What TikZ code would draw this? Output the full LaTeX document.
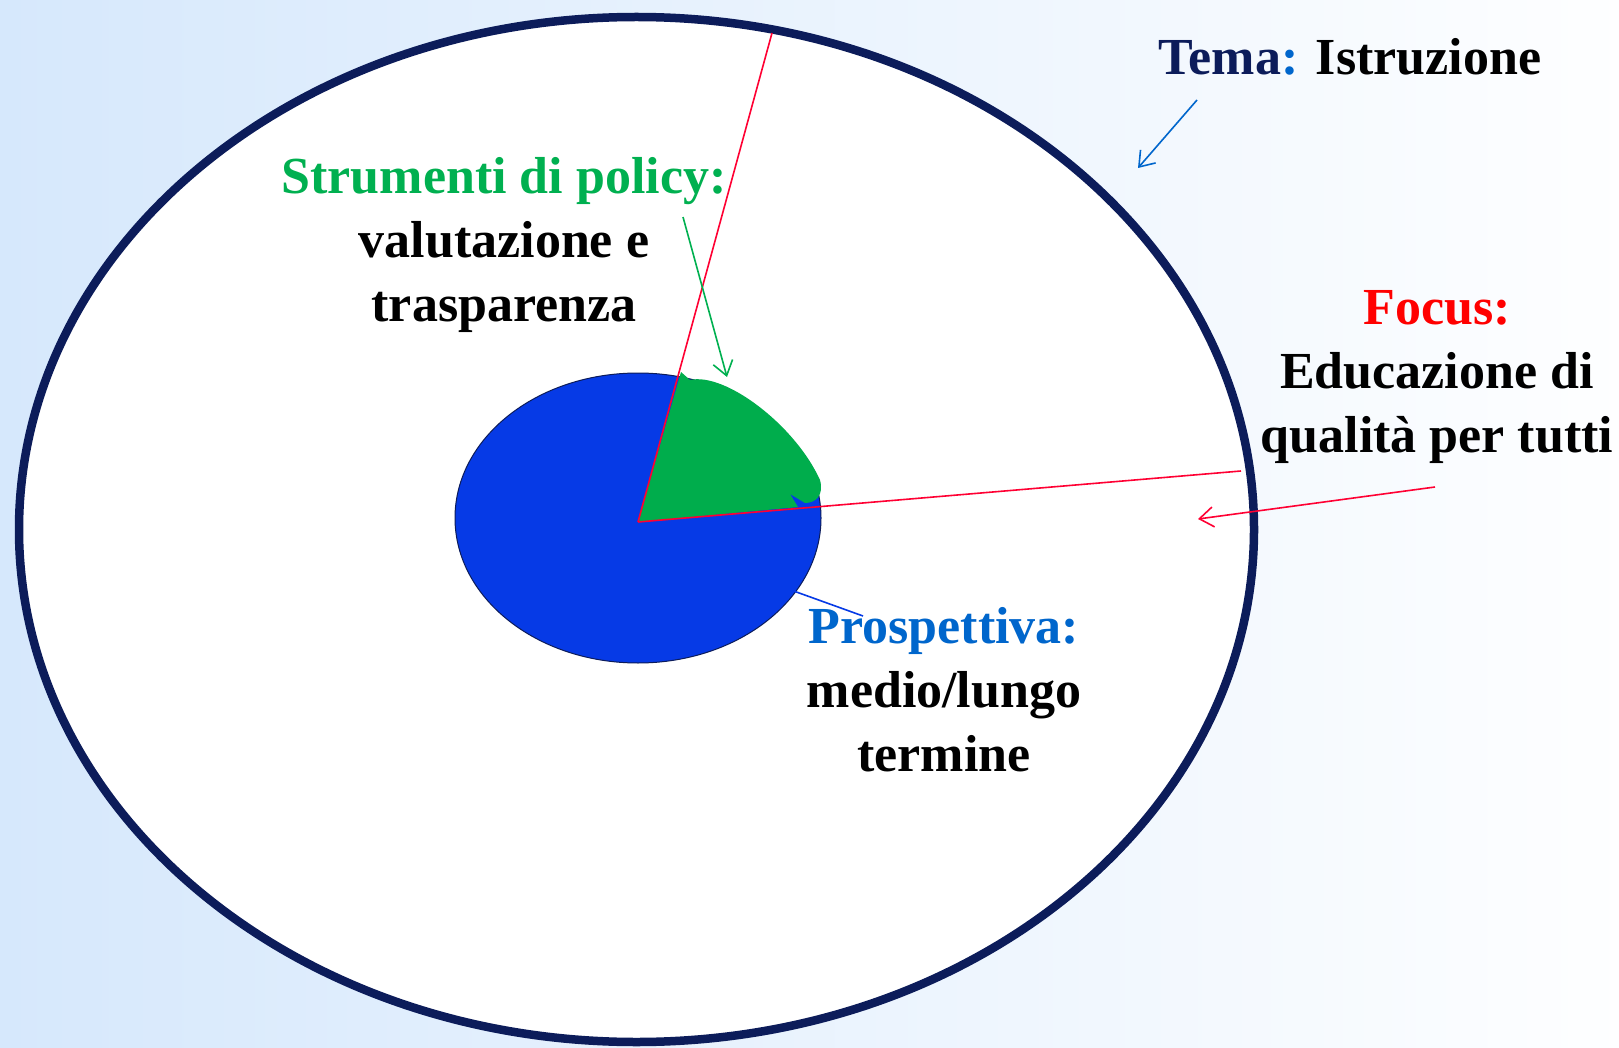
\documentclass[tikz,border=0pt]{standalone}
\usepackage{fontspec}
\setmainfont{Liberation Serif}
\usepackage{xcolor}
\usepackage{tikz}
\usetikzlibrary{arrows.meta}
\definecolor{navy}{RGB}{12,28,90}
\definecolor{bgblue}{RGB}{214,232,252}
\definecolor{pieblue}{RGB}{6,58,230}
\definecolor{piegreen}{RGB}{0,173,76}
\definecolor{txtgreen}{RGB}{0,176,80}
\definecolor{txtblue}{RGB}{0,102,204}
\definecolor{focusred}{RGB}{255,0,0}
\definecolor{linered}{RGB}{255,0,51}

\begin{document}
\begin{tikzpicture}[
    x=1pt, y=-1pt,
    every node/.style={
        align=center,
        anchor=base,
        inner sep=0pt,
        font=\bfseries\fontsize{52}{64}\selectfont
    },
    arrow/.style={-{Straight Barb[length=14pt,width=20pt]}, line width=1.6pt},
    ray/.style={linered, line width=1.6pt}
]

\shade[left color=bgblue, right color=white!97!bgblue] (0,0) rectangle (1619,1048);
\useasboundingbox (0,0) rectangle (1619,1048);

\filldraw[fill=white, draw=navy, line width=8.5pt] (636.5,529.5) ellipse [x radius=617.5, y radius=512.5];

\filldraw[fill=pieblue, draw=navy, line width=1pt] (638,518) ellipse [x radius=183, y radius=145];
\coordinate (c) at (638,522);
\fill[piegreen] (c) -- (681,372) -- (690,380)
    .. controls (725,372) and (795,425) .. (820,480)
    .. controls (824,495) and (816,503) .. (805,503)
    -- (790,494) -- (798,507) -- cycle;

\coordinate (rayup) at (772,33);
\coordinate (rayright) at (1241,471);
\draw[ray] (c) -- (rayup);
\draw[ray] (c) -- (rayright);

\node (tema) at (1350,75) {\textcolor{navy}{Tema}\textcolor{txtblue}{:} Istruzione};
\node (tools) at (504,322) {\textcolor{txtgreen}{Strumenti di policy:}\\valutazione e\\trasparenza};
\node (focus) at (1437,452) {\textcolor{focusred}{Focus:}\\Educazione di\\qualità per tutti};
\node (persp) at (944,771) {\textcolor{txtblue}{Prospettiva:}\\medio/lungo\\termine};

\coordinate (temafrom) at (1197,100);
\coordinate (temato) at (1138,168);
\coordinate (toolsfrom) at (683,217);
\coordinate (toolsto) at (727,377);
\coordinate (focusfrom) at (1435,487);
\coordinate (focusto) at (1198,519);
\coordinate (perspfrom) at (863,616);
\coordinate (perspto) at (777,585);

\draw[arrow, txtblue] (temafrom) -- (temato);
\draw[arrow, txtgreen] (toolsfrom) -- (toolsto);
\draw[arrow, linered] (focusfrom) -- (focusto);
\draw[arrow, pieblue] (perspfrom) -- (perspto);

\end{tikzpicture}
\end{document}
